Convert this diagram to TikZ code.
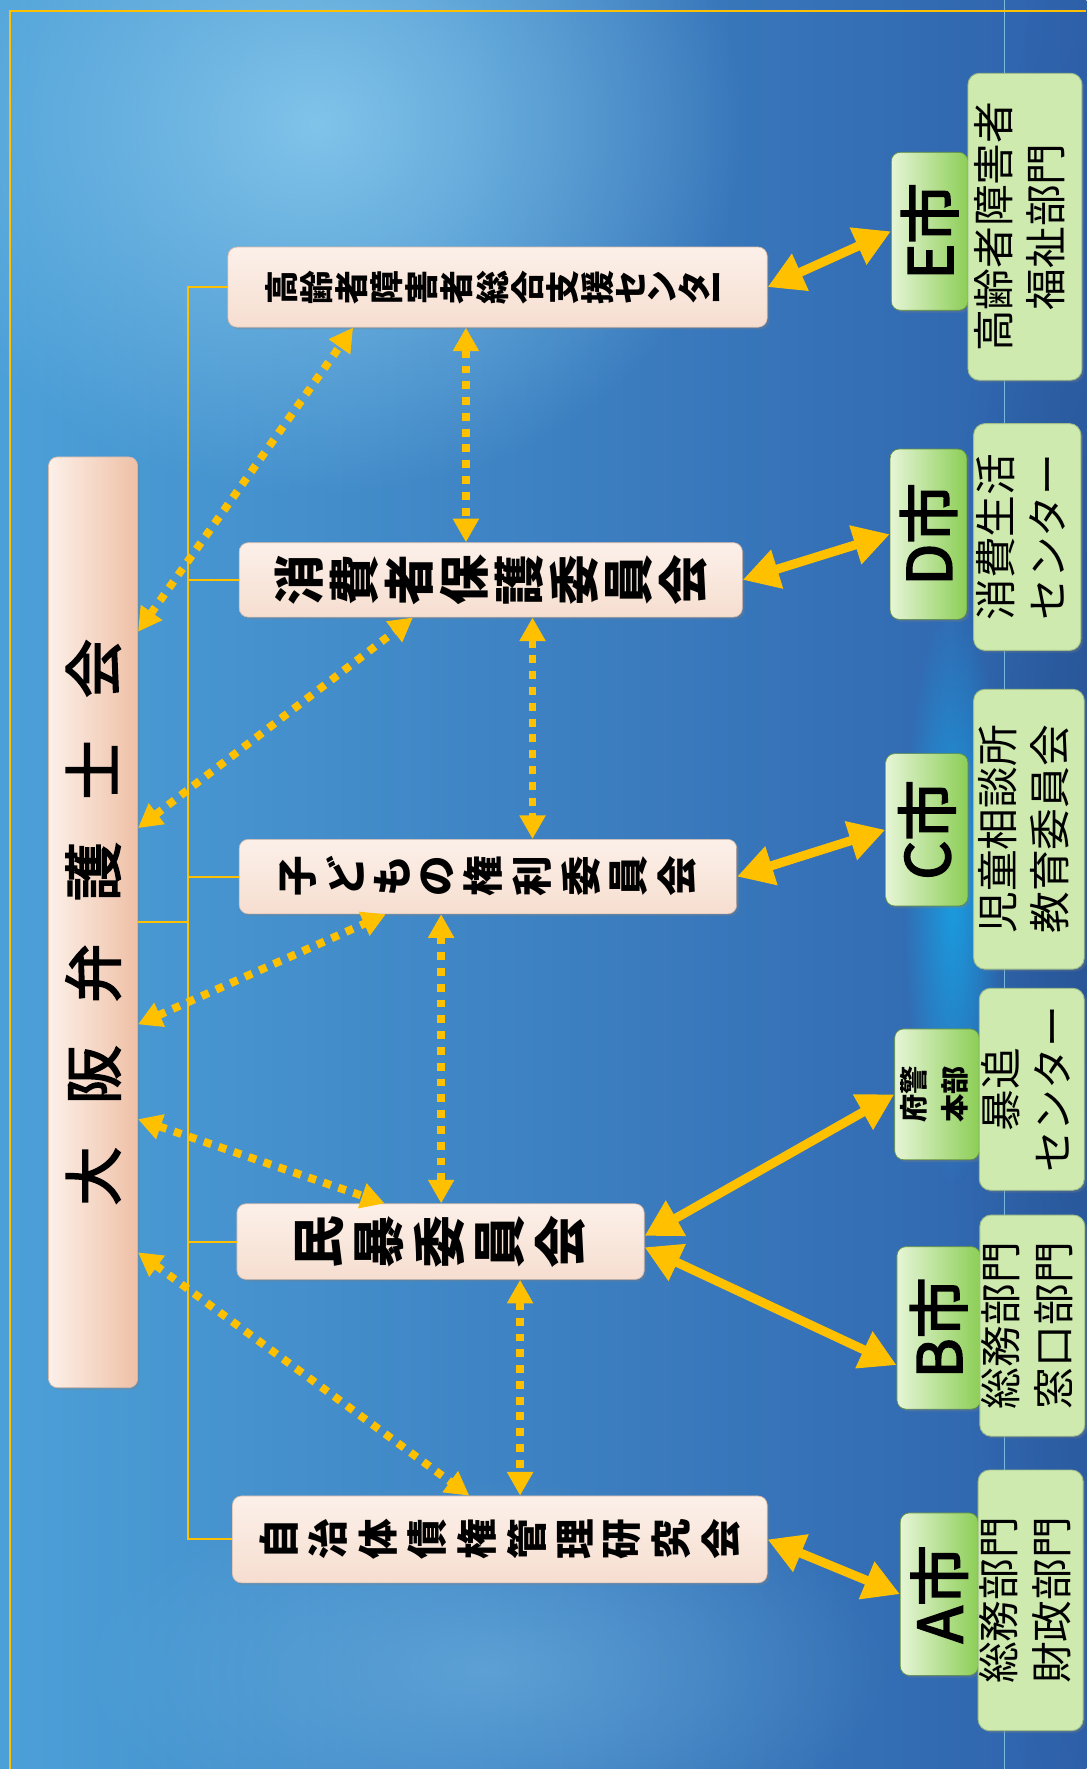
\documentclass[tikz,border=0pt]{standalone}
\usepackage{fontspec}
\setmainfont{Noto Sans CJK JP}
\newfontfamily\jpmed{Noto Sans CJK JP}[FakeBold=3]
\usepackage{tikz}
\usetikzlibrary{arrows.meta,shadows,fadings}

\definecolor{gold}{RGB}{255,192,0}
\definecolor{peachtop}{RGB}{252,240,233}
\definecolor{peachbot}{RGB}{246,222,208}
\definecolor{peachdark}{RGB}{239,192,166}
\definecolor{peachedge}{RGB}{214,184,168}
\definecolor{citylight}{RGB}{230,245,214}
\definecolor{citymid}{RGB}{176,226,128}
\definecolor{citygreen}{RGB}{140,206,86}
\definecolor{paleface}{RGB}{206,234,174}
\definecolor{paleedge}{RGB}{160,190,136}
\definecolor{bgleft}{RGB}{76,160,216}
\definecolor{bgright}{RGB}{46,98,172}
\definecolor{bgglow}{RGB}{128,196,234}
\definecolor{streak}{RGB}{20,170,235}

\tikzfading[name=glowfade, inner color=transparent!0, outer color=transparent!100]

\newcommand\kanjirow[3]{\foreach \c [count=\i] in {#3}{\ifnum\i>1 \hspace{#2}\fi#1{\c}}}
\newcommand\tatetext[3]{\fontsize{#1}{#1}\selectfont\bfseries\kanjirow{\rotatebox{90}}{#2}{#3}}
\newcommand\twolines[2]{\rotatebox{90}{\begin{tabular}{@{}c@{}}#1\\#2\end{tabular}}}

\begin{document}
\begin{tikzpicture}[x=1pt, y=-1pt,
	iinkai/.style={rounded corners=8pt, top color=peachtop, bottom color=peachbot, draw=peachedge, line width=.6pt, inner sep=0pt, drop shadow={opacity=.3, shadow xshift=2pt, shadow yshift=-2pt}},
	kai/.style={iinkai, left color=peachtop, right color=peachdark},
	city/.style={rounded corners=8pt, left color=citylight, middle color=citymid, right color=citygreen, draw=citygreen!70!black, line width=.6pt, inner sep=0pt, drop shadow={opacity=.3, shadow xshift=2pt, shadow yshift=-2pt}, font=\fontsize{54}{54}\jpmed},
	bumon/.style={rounded corners=10pt, fill=paleface, draw=paleedge, line width=.8pt, inner sep=0pt, drop shadow={opacity=.3, shadow xshift=2pt, shadow yshift=-2pt}, font=\fontsize{37}{46.5}\selectfont},
	bigarrow/.style={draw=gold, line width=8pt, >={Triangle[length=32pt,width=34pt]}, <->},
	dotarrow/.style={draw=gold, line width=7pt, dash pattern=on 7pt off 7pt, >={Triangle[length=21pt,width=22pt]}, <->},
	treeline/.style={draw=gold, line width=1.8pt},
	frameline/.style={draw=gold, line width=1.8pt}]

	\useasboundingbox (0,0) rectangle (963,1568);
	\shade[left color=bgleft, right color=bgright] (0,0) rectangle (963,1568);
	\fill[bgglow, path fading=glowfade] (280,110) ellipse (380pt and 330pt);
	\fill[bgleft!80!white, path fading=glowfade, opacity=.6] (430,1480) ellipse (360pt and 170pt);
	\fill[bgright!80!black, path fading=glowfade, opacity=.7] (980,800) ellipse (140pt and 900pt);
	\fill[streak, path fading=glowfade, opacity=.8] (845,790) ellipse (45pt and 260pt);
	\draw[white!60!cyan, line width=.8pt, opacity=.7] (890,0) -- (890,1568);
	\draw[frameline] (963,9.8) -- (8.9,9.8) -- (8.9,1568);

	\node[kai, minimum width=79pt, minimum height=825pt] (bengoshi) at (82.5,817.5)
		{\rotatebox{90}{\fontsize{52}{52}\jpmed\kanjirow{}{38pt}{大,阪,弁,護,士,会}}};

	\node[iinkai, minimum width=478pt, minimum height=71pt] (koureisha) at (441,254.5)
		{\tatetext{30}{2.6pt}{高,齢,者,障,害,者,総,合,支,援,セ,ン,タ,ー}};
	\node[iinkai, minimum width=446pt, minimum height=66pt] (shouhisha) at (435,514)
		{\tatetext{45}{6pt}{消,費,者,保,護,委,員,会}};
	\node[iinkai, minimum width=441pt, minimum height=66pt] (kodomo) at (432.5,777)
		{\tatetext{36}{9pt}{子,ど,も,の,権,利,委,員,会}};
	\node[iinkai, minimum width=361pt, minimum height=67pt] (minbou) at (390.5,1100.5)
		{\tatetext{47}{9.5pt}{民,暴,委,員,会}};
	\node[iinkai, minimum width=474pt, minimum height=77pt] (jichitai) at (443,1364.5)
		{\tatetext{36}{9.6pt}{自,治,体,債,権,管,理,研,究,会}};

	\node[city, minimum width=68pt, minimum height=140pt] (ecity) at (824,205) {\rotatebox{90}{E市}};
	\node[city, minimum width=68pt, minimum height=151pt] (dcity) at (823,473.5) {\rotatebox{90}{D市}};
	\node[city, minimum width=73pt, minimum height=135pt] (ccity) at (821.5,735.5) {\rotatebox{90}{C市}};
	\node[city, minimum width=75pt, minimum height=116pt, font=\fontsize{25}{36}\selectfont\bfseries] (fukei) at (830.5,970) {\twolines{府警}{本部}};
	\node[city, minimum width=74pt, minimum height=144pt] (bcity) at (832,1177) {\rotatebox{90}{B市}};
	\node[city, minimum width=69pt, minimum height=144pt] (acity) at (832.5,1413) {\rotatebox{90}{A市}};

	\node[bumon, minimum width=101pt, minimum height=272pt] (ebumon) at (908.5,201) {\twolines{高齢者障害者}{福祉部門}};
	\node[bumon, minimum width=95pt, minimum height=201pt] (dbumon) at (910.5,476) {\twolines{消費生活}{センター}};
	\node[bumon, minimum width=98pt, minimum height=248pt] (cbumon) at (912,735) {\twolines{児童相談所}{教育委員会}};
	\node[bumon, minimum width=87pt, minimum height=179pt] (boutsui) at (914.5,965.5) {\twolines{暴追}{センター}};
	\node[bumon, minimum width=86pt, minimum height=196pt] (bbumon) at (915,1175) {\twolines{総務部門}{窓口部門}};
	\node[bumon, minimum width=89pt, minimum height=231pt] (abumon) at (913.5,1418.5) {\twolines{総務部門}{財政部門}};

	\coordinate (trunk) at (167,0);
	\draw[treeline] (bengoshi.east) -- (bengoshi.east -| trunk);
	\draw[treeline] (koureisha.west) -- (koureisha.west -| trunk) -- (jichitai.west -| trunk) -- (jichitai.west);
	\foreach \n in {shouhisha,kodomo,minbou}
		\draw[treeline] (\n.west) -- (\n.west -| trunk);

	\draw[bigarrow] (koureisha.east) -- (ecity.west);
	\draw[bigarrow] (shouhisha.east) -- (dcity.west);
	\draw[bigarrow] (kodomo.east) -- (ccity.west);
	\draw[bigarrow] ([yshift=5pt]minbou.east) -- (fukei.west);
	\draw[bigarrow] ([yshift=-5pt]minbou.east) -- ([yshift=-33pt]bcity.west);
	\draw[bigarrow] (jichitai.east) -- (acity.west);

	\draw[dotarrow] ([yshift=257.5pt]bengoshi.east) -- ([xshift=-128pt]koureisha.south);
	\draw[dotarrow] ([yshift=83.5pt]bengoshi.east) -- ([xshift=-69pt]shouhisha.south);
	\draw[dotarrow] ([yshift=-90.5pt]bengoshi.east) -- ([xshift=-90.5pt]kodomo.south);
	\draw[dotarrow] ([yshift=-174.5pt]bengoshi.east) -- ([xshift=-49.5pt]minbou.north);
	\draw[dotarrow] ([yshift=-292.5pt]bengoshi.east) -- ([xshift=-27pt]jichitai.north);

	\draw[dotarrow] ([xshift=-28pt]koureisha.south) -- ([xshift=-28pt]koureisha.south |- shouhisha.north);
	\draw[dotarrow] ([xshift=37pt]shouhisha.south) -- ([xshift=37pt]shouhisha.south |- kodomo.north);
	\draw[dotarrow] ([xshift=-41.5pt]kodomo.south) -- ([xshift=-41.5pt]kodomo.south |- minbou.north);
	\draw[dotarrow] ([xshift=70.5pt]minbou.south) -- ([xshift=70.5pt]minbou.south |- jichitai.north);
\end{tikzpicture}
\end{document}
